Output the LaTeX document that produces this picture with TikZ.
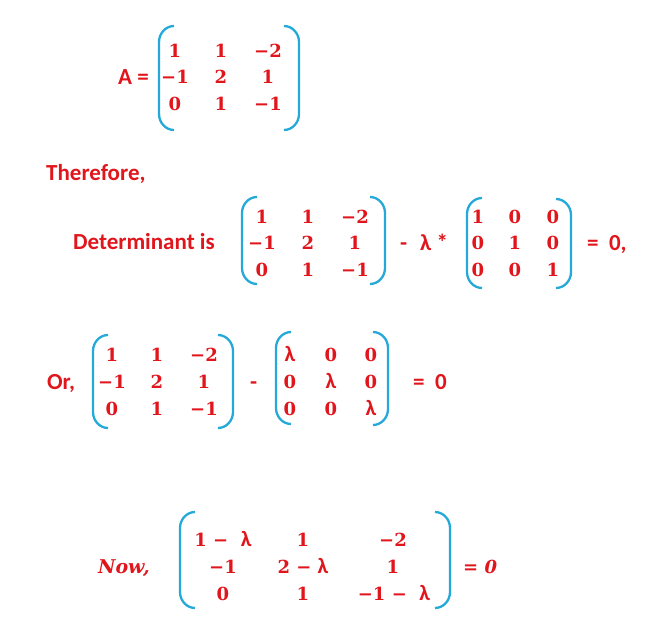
\documentclass[tikz,border=0pt]{standalone}
\usepackage{fontspec}
\setmainfont{Carlito}
\newfontfamily\numfont{DejaVu Serif}
\newcommand{\lam}{{\rmfamily\bfseries\fontsize{22}{22}\selectfont λ}}
\definecolor{eqred}{HTML}{E0161C}
\definecolor{parblue}{HTML}{25A9D9}
\newcommand{\leftpar}[3]{%
  \draw[paren] (#1+15,#2) .. controls (#1+7,#2) and (#1,#2+7) .. (#1,#2+16)
    -- (#1,#3-16) .. controls (#1,#3-7) and (#1+7,#3) .. (#1+15,#3);}
\newcommand{\rightpar}[3]{%
  \draw[paren] (#1-15,#2) .. controls (#1-7,#2) and (#1,#2+7) .. (#1,#2+16)
    -- (#1,#3-16) .. controls (#1,#3-7) and (#1-7,#3) .. (#1-15,#3);}
\tikzset{
  paren/.style={draw=parblue, line width=2.3pt},
  lab/.style={text=eqred, font=\bfseries\fontsize{23}{23}\selectfont,
    inner sep=0pt, anchor=base west},
  num/.style={text=eqred, font=\numfont\bfseries\fontsize{18}{18}\selectfont,
    inner sep=0pt, text height=13pt, text depth=0pt},
  numit/.style={num, font=\numfont\bfseries\itshape\fontsize{18}{18}\selectfont}
}

\begin{document}
\begin{tikzpicture}[x=1pt,y=-1pt]

\useasboundingbox (0,0) rectangle (658,640);

% A
\node[lab] (A) at (118,84) {A =};
\leftpar{159}{26}{130}
\rightpar{299}{26}{130}
\foreach \x/\t [count=\c] in {175/1,221/1,268/−2}
  \node[num] (a1\c) at (\x,51) {\t};
\foreach \x/\t [count=\c] in {175/−1,221/2,268/1}
  \node[num] (a2\c) at (\x,77) {\t};
\foreach \x/\t [count=\c] in {175/0,221/1,268/−1}
  \node[num] (a3\c) at (\x,104) {\t};

\node[lab] (therefore) at (46,180) {Therefore,};

% determinant
\node[lab] (det) at (73,249) {Determinant is};
\leftpar{242}{197}{284}
\rightpar{385}{197}{284}
\foreach \x/\t [count=\c] in {262/1,308/1,355/−2}
  \node[num] (d1\c) at (\x,217) {\t};
\foreach \x/\t [count=\c] in {262/−1,308/2,355/1}
  \node[num] (d2\c) at (\x,243) {\t};
\foreach \x/\t [count=\c] in {262/0,308/1,355/−1}
  \node[num] (d3\c) at (\x,270) {\t};
\node[lab] (minus1) at (400,250) {-};
\node[lab] (lamstar) at (420,250) {λ *};
\leftpar{467}{198}{288}
\rightpar{571}{199}{288}
\foreach \x/\t [count=\c] in {478/1,515/0,553/0}
  \node[num] (i1\c) at (\x,217) {\t};
\foreach \x/\t [count=\c] in {478/0,515/1,553/0}
  \node[num] (i2\c) at (\x,243) {\t};
\foreach \x/\t [count=\c] in {478/0,515/0,553/1}
  \node[num] (i3\c) at (\x,270) {\t};
\node[lab] (eq1) at (587,250) {= \ 0,};

% or
\node[lab] (or) at (47,389) {Or,};
\leftpar{93}{335}{428}
\rightpar{233}{335}{428}
\foreach \x/\t [count=\c] in {112/1,157/1,204/−2}
  \node[num] (o1\c) at (\x,355) {\t};
\foreach \x/\t [count=\c] in {112/−1,157/2,204/1}
  \node[num] (o2\c) at (\x,382) {\t};
\foreach \x/\t [count=\c] in {112/0,157/1,204/−1}
  \node[num] (o3\c) at (\x,409) {\t};
\node[lab] (minus2) at (250,389) {-};
\leftpar{276}{332}{424}
\rightpar{388}{332}{425}
\foreach \x/\t [count=\c] in {290/\lam,331/0,371/0}
  \node[num] (l1\c) at (\x,355) {\t};
\foreach \x/\t [count=\c] in {290/0,331/\lam,371/0}
  \node[num] (l2\c) at (\x,382) {\t};
\foreach \x/\t [count=\c] in {290/0,331/0,371/\lam}
  \node[num] (l3\c) at (\x,409) {\t};
\node[lab] (eq2) at (413,389) {= \ 0};

% now
\node[lab, font=\numfont\bfseries\itshape\fontsize{19}{19}\selectfont] (now) at (98,573) {Now,};
\leftpar{180}{512}{608}
\rightpar{450}{512}{608}
\node[num] (n11) at (223,540) {1 − \ \lam};
\node[num] (n12) at (303,540) {1};
\node[num] (n13) at (393,540) {−2};
\node[num] (n21) at (223,567) {−1};
\node[num] (n22) at (303,567) {2 − \lam};
\node[num] (n23) at (393,567) {1};
\node[num] (n31) at (223,594) {0};
\node[num] (n32) at (303,594) {1};
\node[num] (n33) at (394,594) {−1 − \ \lam};
\node[numit, anchor=west] (eq3) at (463,567) {= 0};

\end{tikzpicture}
\end{document}
